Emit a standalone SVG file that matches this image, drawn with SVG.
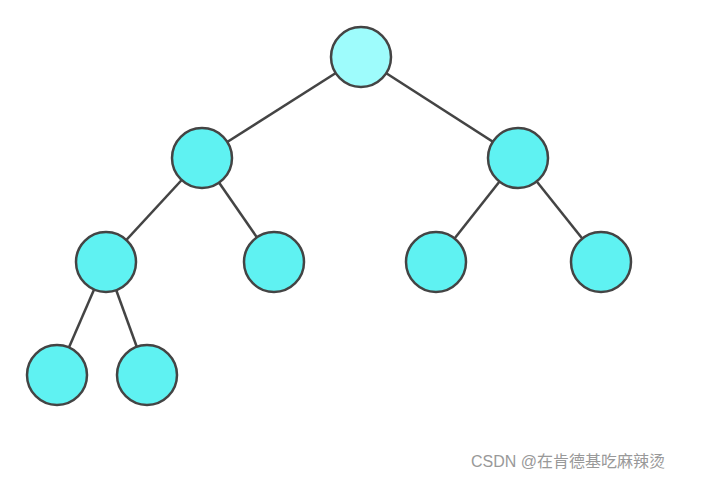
<svg xmlns="http://www.w3.org/2000/svg" width="717" height="480" viewBox="0 0 717 480">
<style>
.n{fill:#5ff2f2;stroke:#444;stroke-width:2.5}
.r{fill:#9efcfc}
.e{stroke:#444;stroke-width:2.5}
.w{font-family:"Liberation Sans","Noto Sans CJK SC",sans-serif;font-size:16px;fill:#999}
</style>
<rect width="717" height="480" fill="#fff"/>
<g id="edges">
<line class="e" x1="361" y1="57" x2="202" y2="158"/>
<line class="e" x1="361" y1="57" x2="518" y2="158"/>
<line class="e" x1="202" y1="158" x2="106" y2="262"/>
<line class="e" x1="202" y1="158" x2="274" y2="262"/>
<line class="e" x1="518" y1="158" x2="436" y2="262"/>
<line class="e" x1="518" y1="158" x2="601" y2="262"/>
<line class="e" x1="106" y1="262" x2="57" y2="375"/>
<line class="e" x1="106" y1="262" x2="147" y2="375"/>
</g>
<g id="root"><ellipse class="n r" cx="361" cy="57" rx="30" ry="30"/></g>
<g id="n1"><ellipse class="n" cx="202" cy="158" rx="30" ry="30"/></g>
<g id="n2"><ellipse class="n" cx="518" cy="158" rx="30" ry="30"/></g>
<g id="n3"><ellipse class="n" cx="106" cy="262" rx="30" ry="30"/></g>
<g id="n4"><ellipse class="n" cx="274" cy="262" rx="30" ry="30"/></g>
<g id="n5"><ellipse class="n" cx="436" cy="262" rx="30" ry="30"/></g>
<g id="n6"><ellipse class="n" cx="601" cy="262" rx="30" ry="30"/></g>
<g id="n7"><ellipse class="n" cx="57" cy="375" rx="30" ry="30"/></g>
<g id="n8"><ellipse class="n" cx="147" cy="375" rx="30" ry="30"/></g>
<text class="w" x="471" y="467">CSDN @在肯德基吃麻辣烫</text>
</svg>
